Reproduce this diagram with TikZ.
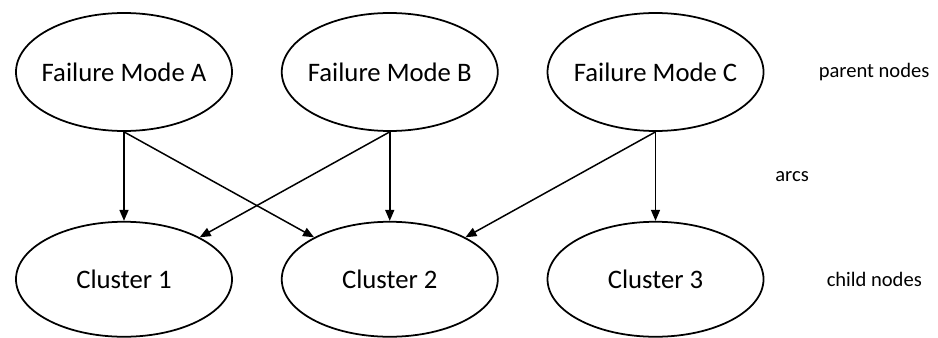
\documentclass[tikz,border=0pt]{standalone}
\usepackage{fontspec}
\setmainfont{Carlito}
\usetikzlibrary{positioning, shapes.geometric, arrows.meta}

\begin{document}
\begin{tikzpicture}[
  node distance=1.78cm and 0.96cm,
  font=\fontsize{15.2}{18}\selectfont,
  % Failure modes and clusters (Ellipses)
  mode/.style={ellipse, draw, line width=1pt, minimum width=4.32cm, minimum height=2.36cm, inner xsep=-0.5cm, inner ysep=0pt},
  cluster/.style={ellipse, draw, line width=1pt, minimum width=4.32cm, minimum height=2.3cm, inner xsep=-0.5cm, inner ysep=0pt},
  % Side labels
  tag/.style={inner sep=0pt, anchor=west, font=\fontsize{11.7}{14}\selectfont},
  % Arcs
  arc/.style={-{Triangle[length=0.22cm, width=0.18cm]}, line width=0.85pt}
  ]

  \useasboundingbox (-2.48,1.44) rectangle (16.28,-5.32);

  % --- Parent Nodes ---
  \node[mode] (FMA) {Failure Mode A};
  \node[mode, right=of FMA] (FMB) {Failure Mode B};
  \node[mode, right=of FMB] (FMC) {Failure Mode C};

  % --- Child Nodes ---
  \node[cluster, below=of FMA] (CL1) {Cluster 1};
  \node[cluster, below=of FMB] (CL2) {Cluster 2};
  \node[cluster, below=of FMC] (CL3) {Cluster 3};

  % --- Labels ---
  \node[tag, right=1.08cm of FMC] (Lparent) {parent nodes};
  \node[tag] (Larcs) at (13.02,-2.1) {arcs};
  \node[tag, right=1.24cm of CL3] (Lchild) {child nodes};

  % --- Arcs ---
  \draw[arc] (FMA.south) -- (CL1);
  \draw[arc] (FMA.south) -- (CL2);
  \draw[arc] (FMB.south) -- (CL1);
  \draw[arc] (FMB.south) -- (CL2);
  \draw[arc] (FMC.south) -- (CL2);
  \draw[arc] (FMC.south) -- (CL3);

\end{tikzpicture}
\end{document}
